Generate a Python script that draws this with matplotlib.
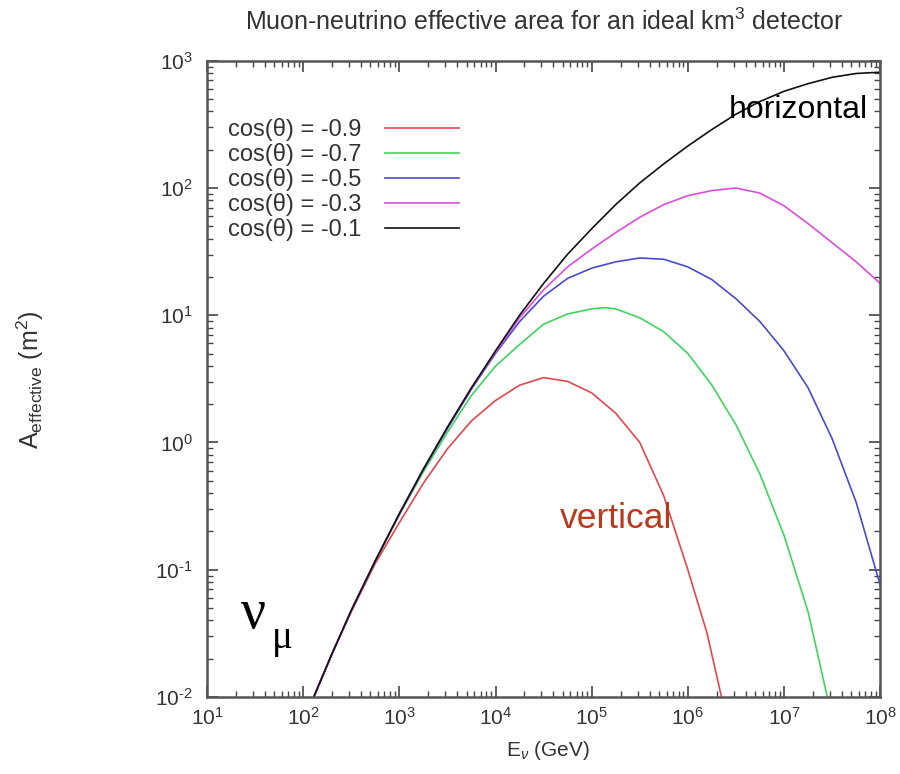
import numpy as np
import matplotlib.pyplot as plt
from matplotlib.ticker import FuncFormatter

plt.rcParams['font.family'] = ['Liberation Sans', 'DejaVu Sans']
plt.rcParams['mathtext.fontset'] = 'custom'
plt.rcParams['mathtext.rm'] = 'Liberation Sans'
plt.rcParams['mathtext.it'] = 'Liberation Sans:italic'
plt.rcParams['mathtext.sf'] = 'Liberation Sans'
plt.rcParams['axes.unicode_minus'] = False

# curves, as log10(E/GeV) and log10(A/m^2)
logE_m09 = [2.11, 2.3, 2.5, 2.75, 3.0, 3.25, 3.5, 3.75, 4.0, 4.25, 4.5, 4.75, 5.0, 5.25, 5.5, 5.75, 6.0, 6.2, 6.35]
logA_m09 = [-2.0, -1.66, -1.33, -0.95, -0.63, -0.32, -0.05, 0.17, 0.33, 0.45, 0.51, 0.48, 0.39, 0.23, 0.0, -0.42, -1.0, -1.5, -2.0]

logE_m07 = [2.11, 2.3, 2.5, 2.75, 3.0, 3.25, 3.5, 3.75, 4.0, 4.25, 4.5, 4.75, 5.0, 5.14, 5.25, 5.5, 5.75, 6.0, 6.25, 6.5, 6.75, 7.0, 7.25, 7.45]
logA_m07 = [-2.0, -1.66, -1.32, -0.93, -0.57, -0.23, 0.08, 0.37, 0.6, 0.77, 0.93, 1.01, 1.05, 1.06, 1.05, 0.98, 0.87, 0.7, 0.45, 0.14, -0.25, -0.73, -1.33, -2.0]

logE_m05 = [2.11, 2.3, 2.5, 2.75, 3.0, 3.25, 3.5, 3.75, 4.0, 4.25, 4.5, 4.75, 5.0, 5.25, 5.5, 5.75, 6.0, 6.25, 6.5, 6.75, 7.0, 7.25, 7.5, 7.75, 8.0]
logA_m05 = [-2.0, -1.66, -1.32, -0.93, -0.56, -0.21, 0.11, 0.42, 0.7, 0.95, 1.15, 1.29, 1.37, 1.42, 1.45, 1.44, 1.38, 1.28, 1.13, 0.95, 0.72, 0.43, 0.03, -0.47, -1.12]

logE_m03 = [2.11, 2.3, 2.5, 2.75, 3.0, 3.25, 3.5, 3.75, 4.0, 4.25, 4.5, 4.75, 5.0, 5.25, 5.5, 5.75, 6.0, 6.25, 6.5, 6.75, 7.0, 7.25, 7.5, 7.75, 8.0]
logA_m03 = [-2.0, -1.66, -1.32, -0.93, -0.56, -0.21, 0.12, 0.43, 0.71, 0.98, 1.2, 1.38, 1.52, 1.65, 1.77, 1.87, 1.94, 1.98, 2.0, 1.96, 1.86, 1.72, 1.57, 1.42, 1.25]

logE_m01 = [2.11, 2.3, 2.5, 2.75, 3.0, 3.25, 3.5, 3.75, 4.0, 4.25, 4.5, 4.75, 5.0, 5.25, 5.5, 5.75, 6.0, 6.25, 6.5, 6.75, 7.0, 7.25, 7.5, 7.75, 8.0]
logA_m01 = [-2.0, -1.66, -1.32, -0.93, -0.56, -0.21, 0.12, 0.43, 0.72, 1.0, 1.25, 1.48, 1.68, 1.87, 2.04, 2.19, 2.33, 2.46, 2.58, 2.68, 2.76, 2.82, 2.87, 2.9, 2.91]

labels = ['cos(\u03b8) = -0.9', 'cos(\u03b8) = -0.7', 'cos(\u03b8) = -0.5',
          'cos(\u03b8) = -0.3', 'cos(\u03b8) = -0.1']
colors = ['#e2474d', '#3fd45e', '#4a4acf', '#dc4ddc', '#111111']
curves = [(logE_m09, logA_m09), (logE_m07, logA_m07), (logE_m05, logA_m05),
          (logE_m03, logA_m03), (logE_m01, logA_m01)]


def pow10_label(v, pos):
    e = int(round(np.log10(v)))
    if e < 0:
        return r'$\mathdefault{10^{\text{-}%d}}$' % (-e)
    return r'$\mathdefault{10^{%d}}$' % e


fig = plt.figure(figsize=(9, 7.74), dpi=100)
ax = fig.add_axes([0.230, 0.0995, 0.748, 0.822])

for (le, la), lab, col in zip(curves, labels, colors):
    ax.plot(np.power(10.0, le), np.power(10.0, la), color=col, lw=1.2, label=lab)

ax.set_xscale('log')
ax.set_yscale('log')
ax.set_xlim(1e1, 1e8)
ax.set_ylim(1e-2, 1e3)
ax.xaxis.set_major_formatter(FuncFormatter(pow10_label))
ax.yaxis.set_major_formatter(FuncFormatter(pow10_label))

for s in ax.spines.values():
    s.set_color('#555555')
    s.set_linewidth(1.8)
ax.tick_params(which='both', direction='in', top=True, right=True,
               colors='#444444', labelcolor='#333333', labelsize=15)
ax.tick_params(which='major', length=8, width=1.2)
ax.tick_params(which='minor', length=4, width=1.0)
ax.tick_params(axis='x', which='major', pad=7)
ax.tick_params(axis='y', which='major', pad=10)

leg = ax.legend(loc='upper left', bbox_to_anchor=(0.014, 0.928), frameon=False,
                markerfirst=False, fontsize=17, handlelength=3.1,
                handletextpad=1.0, labelspacing=0.08, borderpad=0)
for t in leg.get_texts():
    t.set_color('#333333')

fig.text(0.605, 1 - 22 / 774, 'Muon-neutrino effective area for an ideal km$^3$ detector',
         ha='center', va='center', fontsize=18, color='#333333')
fig.text(30 / 900, 1 - 380 / 774, r'A$_{\mathrm{effective}}$ (m$^2$)', rotation=90,
         ha='center', va='center', fontsize=18, color='#333333')
fig.text(548 / 900, 1 - 750 / 774, r'E$_{\nu}$ (GeV)',
         ha='center', va='center', fontsize=15, color='#333333')

ax.text(0.982, 0.91, 'horizontal', transform=ax.transAxes, ha='right',
        va='baseline', fontsize=23, color='black')
ax.text(0.5245, 0.266, 'vertical', transform=ax.transAxes, ha='left',
        va='baseline', fontsize=25.5, color='#b83a1c')
ax.text(0.0505, 0.1085, '\u03bd', transform=ax.transAxes, ha='left',
        va='baseline', fontsize=40, family='Liberation Serif', color='black')
ax.text(0.097, 0.077, '\u03bc', transform=ax.transAxes, ha='left',
        va='baseline', fontsize=28, family='Liberation Serif', color='black')

plt.savefig('out.png', dpi=100)
